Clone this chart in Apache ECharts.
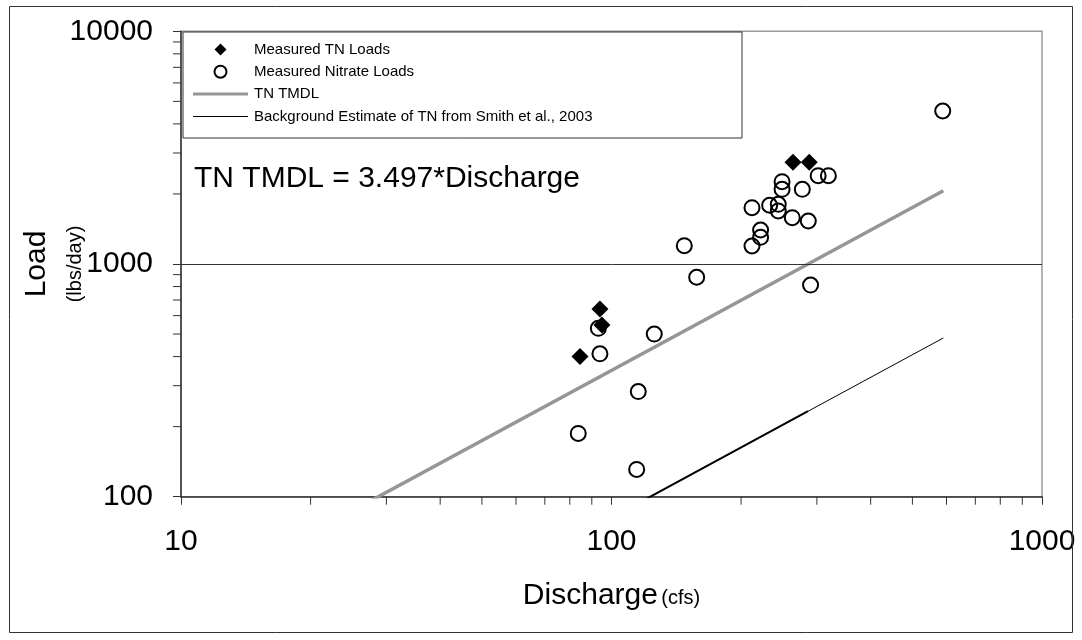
<!DOCTYPE html>
<html>
<head>
<meta charset="utf-8">
<title>TN Loads vs Discharge</title>
<script src="https://cdn.jsdelivr.net/npm/echarts@6/dist/echarts.min.js"></script>
<style>
  html, body { margin: 0; padding: 0; background: #fff; }
  #chart { width: 1082px; height: 640px; }
</style>
</head>
<body>
<div id="chart"></div>
<script>
// Measured total nitrogen loads: [discharge (cfs), load (lbs/day)]
const tnLoads = [
  [84.5, 400], [94, 641], [95, 547], [264, 2735], [288, 2735]
];

// Measured nitrate loads: [discharge (cfs), load (lbs/day)]
const nitrateLoads = [
  [588, 4545], [302, 2396], [319, 2396], [249, 2258], [249, 2094],
  [277.5, 2094], [212, 1746], [233, 1788], [244, 1805], [244, 1690],
  [263, 1581], [286.5, 1530], [222, 1400], [222, 1302], [212, 1195],
  [147.6, 1199], [157.7, 877], [290, 812], [93.2, 529], [94, 411],
  [125.7, 500], [115.4, 283], [83.7, 187], [114.4, 131]
];

// TN TMDL line endpoints (load = 3.497 * discharge)
const tmdlLine = [[25, 87], [590, 2063]];

// Background TN estimate (Smith et al., 2003)
const backgroundLine = [[112, 91], [590, 481]];
const backgroundLineDense = [[112, 91], [286, 233]];

// Axis ranges and minor tick positions
const xRange = [10, 1000];
const yRange = [100, 10000];
const xMinorTicks = [20, 30, 40, 50, 60, 70, 80, 90, 200, 300, 400, 500, 600, 700, 800, 900];
const yMinorTicks = [200, 300, 400, 500, 600, 700, 800, 900, 2000, 3000, 4000, 5000, 6000, 7000, 8000, 9000];

const FONT = 'Liberation Sans, Arial, sans-serif';
// Legend icon shapes (fitted into the legend item box, aspect kept)
const ICON_DIAMOND = 'path://M0,-1L1,0L0,1L-1,0Z';
const ICON_THICK_LINE = 'path://M0,0H55V3H0Z';
const ICON_THIN_LINE = 'path://M0,0H55V1H0Z';

const chart = echarts.init(document.getElementById('chart'), null, { renderer: 'canvas' });

const option = {
  backgroundColor: '#ffffff',
  animation: false,
  textStyle: { fontFamily: FONT, color: '#000' },
  grid: {
    left: 181, right: 40, top: 31.3, bottom: 143.3,
    outerBoundsMode: 'none',
    containLabel: false,
    show: true, borderColor: '#9a9a9a', borderWidth: 1.5, backgroundColor: 'transparent'
  },
  xAxis: {
    type: 'log', logBase: 10, min: xRange[0], max: xRange[1],
    name: '{a|Discharge} {b|(cfs)}',
    nameLocation: 'middle', nameGap: 84,
    nameTextStyle: {
      rich: {
        a: { fontSize: 30, fontFamily: FONT, color: '#000' },
        b: { fontSize: 20, fontFamily: FONT, color: '#000', padding: [6, 0, 0, 0] }
      }
    },
    axisLine: { lineStyle: { color: '#333', width: 1.5 } },
    axisTick: { show: true, inside: false, length: 8, lineStyle: { color: '#333' } },
    axisLabel: {
      margin: 30, fontSize: 30, fontFamily: FONT, color: '#000',
      formatter: v => String(Math.round(v))
    },
    splitLine: { show: false }
  },
  yAxis: {
    type: 'log', logBase: 10, min: yRange[0], max: yRange[1],
    name: '{a|Load}\n{b|(lbs/day)}',
    nameLocation: 'middle', nameRotate: 90, nameGap: 85,
    nameMoveOverlap: false,
    nameTextStyle: {
      align: 'center',
      rich: {
        a: { fontSize: 30, lineHeight: 34, fontFamily: FONT, color: '#000' },
        b: { fontSize: 20, lineHeight: 42, fontFamily: FONT, color: '#000' }
      }
    },
    axisLine: { lineStyle: { color: '#333', width: 1.5 } },
    axisTick: { show: true, inside: false, length: 8, lineStyle: { color: '#333' } },
    axisLabel: {
      margin: 28, fontSize: 30, fontFamily: FONT, color: '#000',
      formatter: v => String(Math.round(v))
    },
    splitLine: { show: false }
  },
  legend: {
    orient: 'vertical', left: 183, top: 32,
    padding: [10, 10, 10, 10],
    itemWidth: 55, itemHeight: 12, itemGap: 7.3,
    symbolKeepAspect: true,
    z: 10,
    textStyle: { fontSize: 15, fontFamily: FONT, color: '#000', padding: [0, 0, 0, 1] },
    data: [
      { name: 'Measured TN Loads', icon: ICON_DIAMOND, itemStyle: { color: '#000' } },
      { name: 'Measured Nitrate Loads' },
      { name: 'TN TMDL', icon: ICON_THICK_LINE, itemStyle: { color: '#969696', borderWidth: 0 } },
      { name: 'Background Estimate of TN from Smith et al., 2003', icon: ICON_THIN_LINE, itemStyle: { color: '#000', borderWidth: 0 } }
    ]
  },
  graphic: [
    {
      type: 'rect', z: 5, silent: true,
      shape: { x: 183, y: 32, width: 559, height: 106 },
      style: { fill: '#fff', stroke: '#333', lineWidth: 1 }
    },
    {
      type: 'rect', z: 1, silent: true,
      shape: { x: 9.5, y: 6.5, width: 1063, height: 626 },
      style: { fill: 'none', stroke: '#333', lineWidth: 1 }
    },
    {
      type: 'text', z: 6, left: 194, top: 164,
      style: {
        text: 'TN TMDL = 3.497*Discharge',
        font: '30px ' + FONT, fill: '#000'
      }
    }
  ],
  series: [
    {
      name: 'TN TMDL', type: 'line', data: tmdlLine,
      symbol: 'none', clip: true, z: 3,
      lineStyle: { color: '#969696', width: 3.5 },
      itemStyle: { color: '#969696' },
      markLine: {
        silent: true, symbol: 'none', label: { show: false },
        lineStyle: { color: '#333', width: 1, type: 'solid' },
        data: [{ yAxis: 1000 }]
      }
    },
    {
      name: 'Background Estimate of TN from Smith et al., 2003', type: 'line',
      data: backgroundLine, symbol: 'none', clip: true, z: 3,
      lineStyle: { color: '#000', width: 1 },
      itemStyle: { color: '#000' }
    },
    {
      name: 'bgDense', type: 'line', data: backgroundLineDense,
      symbol: 'none', clip: true, z: 3,
      lineStyle: { color: '#000', width: 2 }
    },
    {
      name: 'Measured Nitrate Loads', type: 'scatter', data: nitrateLoads,
      symbol: 'circle', symbolSize: 15, z: 4,
      itemStyle: { color: 'transparent', borderColor: '#000', borderWidth: 2, opacity: 1 }
    },
    {
      name: 'Measured TN Loads', type: 'scatter', data: tnLoads,
      symbol: 'diamond', symbolSize: 17, z: 5,
      itemStyle: { color: '#000', opacity: 1 }
    },
    {
      name: 'xMinor', type: 'custom', silent: true, clip: false, z: 6,
      data: xMinorTicks.map(v => [v, yRange[0]]),
      renderItem: (params, api) => {
        const p = api.coord([api.value(0), api.value(1)]);
        return {
          type: 'line',
          shape: { x1: p[0], y1: p[1], x2: p[0], y2: p[1] + 8 },
          style: { stroke: '#333', lineWidth: 1 }
        };
      }
    },
    {
      name: 'yMinor', type: 'custom', silent: true, clip: false, z: 6,
      data: yMinorTicks.map(v => [xRange[0], v]),
      renderItem: (params, api) => {
        const p = api.coord([api.value(0), api.value(1)]);
        return {
          type: 'line',
          shape: { x1: p[0] - 8, y1: p[1], x2: p[0], y2: p[1] },
          style: { stroke: '#333', lineWidth: 1 }
        };
      }
    }
  ]
};

chart.setOption(option);
</script>
</body>
</html>
